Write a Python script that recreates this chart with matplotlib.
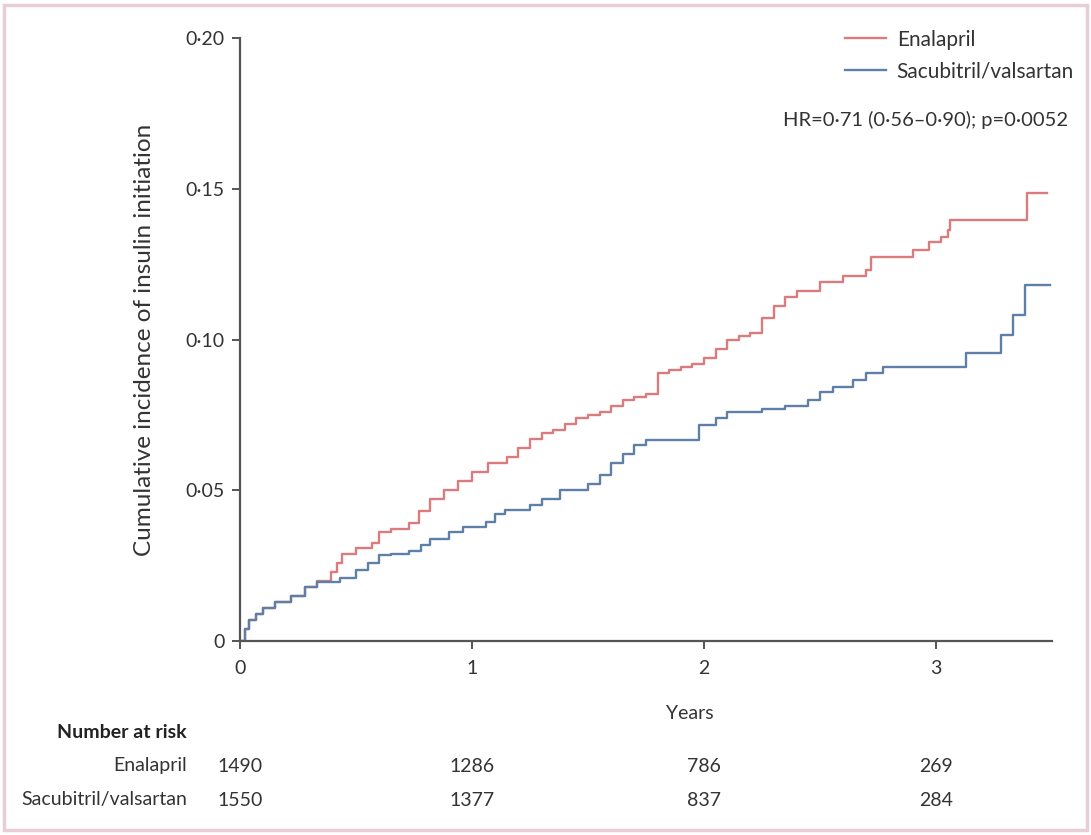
import matplotlib
matplotlib.use("Agg")
import matplotlib.pyplot as plt
from matplotlib.patches import Rectangle

plt.rcParams['font.family'] = ['Lato', 'DejaVu Sans']

# step points (years, cumulative incidence)
ena_t = [0, 0.02, 0.04, 0.07, 0.1, 0.15, 0.22, 0.28, 0.33, 0.39, 0.42, 0.44, 0.5, 0.57,
         0.6, 0.65, 0.73, 0.77, 0.82, 0.88, 0.94, 1.0, 1.07, 1.15, 1.2, 1.25, 1.3, 1.35,
         1.4, 1.45, 1.5, 1.55, 1.6, 1.65, 1.7, 1.75, 1.8, 1.85, 1.9, 1.95, 2.0, 2.05,
         2.1, 2.15, 2.2, 2.25, 2.3, 2.35, 2.4, 2.5, 2.6, 2.7, 2.72, 2.9, 2.97, 3.02,
         3.05, 3.06, 3.39, 3.48]
ena_y = [0, 0.004, 0.007, 0.009, 0.011, 0.013, 0.015, 0.018, 0.020, 0.023, 0.026, 0.029,
         0.031, 0.0325, 0.036, 0.037, 0.039, 0.043, 0.047, 0.050, 0.053, 0.056, 0.059,
         0.061, 0.064, 0.067, 0.069, 0.070, 0.072, 0.074, 0.075, 0.076, 0.078, 0.080,
         0.081, 0.082, 0.089, 0.090, 0.091, 0.092, 0.094, 0.097, 0.100, 0.101, 0.102,
         0.107, 0.111, 0.114, 0.116, 0.119, 0.121, 0.123, 0.1274, 0.1297, 0.1323, 0.134,
         0.1363, 0.1396, 0.1486, 0.1486]

sac_t = [0, 0.02, 0.04, 0.07, 0.1, 0.15, 0.22, 0.28, 0.33, 0.43, 0.5, 0.55, 0.6, 0.65,
         0.73, 0.78, 0.82, 0.9, 0.96, 1.06, 1.1, 1.14, 1.25, 1.3, 1.38, 1.5, 1.55, 1.6,
         1.65, 1.7, 1.75, 1.98, 2.05, 2.1, 2.25, 2.35, 2.45, 2.5, 2.556, 2.64, 2.70, 2.77,
         3.13, 3.28, 3.33, 3.384, 3.49]
sac_y = [0, 0.004, 0.007, 0.009, 0.011, 0.013, 0.015, 0.018, 0.0195, 0.021, 0.0235,
         0.026, 0.0285, 0.029, 0.030, 0.032, 0.034, 0.036, 0.0378, 0.0395, 0.042, 0.0434,
         0.045, 0.047, 0.050, 0.052, 0.055, 0.059, 0.062, 0.065, 0.0667, 0.0716, 0.074,
         0.076, 0.077, 0.078, 0.080, 0.0826, 0.0842, 0.0866, 0.0889, 0.0909, 0.0955,
         0.1015, 0.108, 0.118, 0.118]

risk_t = [0, 1, 2, 3]
risk_ena = [1490, 1286, 786, 269]
risk_sac = [1550, 1377, 837, 284]

red = '#dc7b7e'
blue = '#5f80a6'
grey = '#555555'
txt = '#333333'

fig = plt.figure(figsize=(10.91, 8.35), dpi=100)
fig.patches.append(Rectangle((0.004, 0.006), 0.992, 0.988, transform=fig.transFigure,
                             fill=False, edgecolor='#e8cdd6', linewidth=2.5))

ax = fig.add_axes([0.22, 0.2323, 0.7443, 0.7222])
ax.step(ena_t, ena_y, where='post', color=red, lw=1.7, label='Enalapril')
ax.step(sac_t, sac_y, where='post', color=blue, lw=1.7, label='Sacubitril/valsartan')

ax.set_xlim(0, 3.5)
ax.set_ylim(0, 0.2)
for s in ['top', 'right']:
    ax.spines[s].set_visible(False)
for s in ['left', 'bottom']:
    ax.spines[s].set_color(grey)
    ax.spines[s].set_linewidth(1.6)

ax.set_xticks(risk_t)
ax.set_xticklabels([str(t) for t in risk_t])
yt = [0, 0.05, 0.10, 0.15, 0.20]
ax.set_yticks(yt)
ax.set_yticklabels(['0', '0·05', '0·10', '0·15', '0·20'])
ax.tick_params(direction='out', length=6, width=1.4, color=grey, labelsize=14,
               labelcolor=txt)
ax.tick_params(axis='x', pad=8)
ax.tick_params(axis='y', pad=5)

ax.set_ylabel('Cumulative incidence of insulin initiation', fontsize=17.5, color=txt,
              labelpad=22)
ax.text(1.94, -0.024, 'Years', fontsize=14, color=txt, ha='center', va='center')

leg = ax.legend(loc='upper right', bbox_to_anchor=(1.05, 1.045), frameon=False,
                fontsize=15, handlelength=2.0, labelspacing=0.55, handletextpad=0.5)
for t in leg.get_texts():
    t.set_color(txt)
fig.text(1068 / 1091, 1 - 120 / 835, 'HR=0·71 (0·56–0·90); p=0·0052',
         fontsize=14.5, color=txt, ha='right', va='center')

# number at risk table
lab_x = 187 / 1091
fig.text(lab_x, 1 - 732 / 835, 'Number at risk', fontsize=14, fontweight='bold',
         color='#222222', ha='right', va='center')
fig.text(lab_x, 1 - 766 / 835, 'Enalapril', fontsize=14, color=txt, ha='right', va='center')
fig.text(lab_x, 1 - 800 / 835, 'Sacubitril/valsartan', fontsize=14, color=txt,
         ha='right', va='center')
for t, a, b in zip(risk_t, risk_ena, risk_sac):
    xf = fig.transFigure.inverted().transform(ax.transData.transform((t, 0)))[0]
    fig.text(xf, 1 - 766 / 835, str(a), fontsize=14, color=txt, ha='center', va='center')
    fig.text(xf, 1 - 800 / 835, str(b), fontsize=14, color=txt, ha='center', va='center')

fig.savefig('out.png', dpi=100)
